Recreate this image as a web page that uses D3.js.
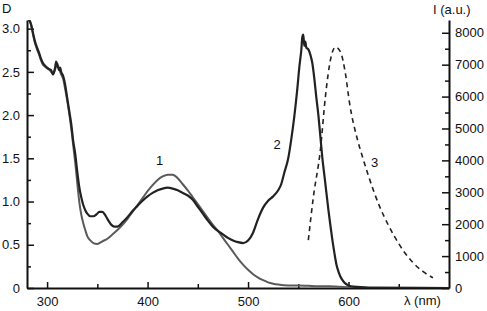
<!DOCTYPE html>
<html><head><meta charset="utf-8">
<script src="https://cdn.jsdelivr.net/npm/d3@7"></script>
<style>
html,body{margin:0;padding:0;background:#fff;}
text{font-family:"Liberation Sans",Arial,Helvetica,sans-serif;}
</style></head>
<body><svg id="c" width="487" height="311"></svg>
<script>
// Curve 1 (gray absorption): [wavelength nm, D]
const curve1 = [[280,3.15],[282,3.12],[284,3.05],[286,2.93],[288,2.83],[290,2.76],[292,2.7],[294,2.63],[296,2.58],[298,2.56],[300,2.54],[302,2.53],[304,2.5],[306,2.48],[308,2.53],[310,2.6],[312,2.53],[314,2.47],[316,2.42],[318,2.3],[320,2.17],[322,2.02],[324,1.85],[326,1.65],[328,1.45],[330,1.22],[332,1.0],[334,0.85],[336,0.75],[338,0.67],[340,0.6],[343,0.55],[346,0.52],[350,0.51],[355,0.54],[360,0.57],[365,0.62],[370,0.67],[375,0.73],[380,0.8],[385,0.88],[390,0.96],[395,1.04],[400,1.12],[405,1.19],[410,1.25],[415,1.29],[420,1.31],[425,1.31],[430,1.27],[435,1.2],[440,1.13],[445,1.05],[450,0.97],[455,0.89],[460,0.81],[465,0.73],[470,0.66],[475,0.58],[480,0.5],[485,0.42],[490,0.34],[495,0.27],[500,0.21],[505,0.16],[510,0.12],[515,0.09],[520,0.065],[525,0.05],[530,0.04],[540,0.03],[550,0.03],[560,0.025],[570,0.02],[580,0.02],[590,0.015],[600,0.01],[610,0.005],[620,0]];
// Curve 2 (dark absorption): [wavelength nm, D]
const curve2 = [[280,3.15],[282,3.1],[284,3.05],[286,2.95],[288,2.85],[290,2.78],[292,2.72],[294,2.65],[296,2.6],[298,2.57],[300,2.55],[302,2.53],[304,2.52],[305,2.49],[306,2.47],[307,2.5],[308,2.55],[309,2.62],[310,2.58],[311,2.55],[312,2.52],[313,2.55],[314,2.5],[316,2.45],[318,2.35],[320,2.2],[322,2.05],[324,1.9],[326,1.7],[328,1.55],[330,1.35],[332,1.17],[334,1.05],[336,0.96],[338,0.9],[340,0.86],[343,0.83],[346,0.83],[349,0.85],[352,0.88],[355,0.88],[358,0.84],[361,0.78],[364,0.73],[367,0.71],[370,0.71],[375,0.76],[380,0.82],[385,0.89],[390,0.95],[395,1.01],[400,1.06],[405,1.10],[410,1.13],[415,1.15],[420,1.16],[425,1.15],[430,1.13],[435,1.1],[440,1.07],[445,1.02],[450,0.94],[455,0.86],[460,0.78],[465,0.71],[470,0.66],[475,0.62],[480,0.58],[485,0.55],[490,0.53],[495,0.52],[500,0.55],[505,0.64],[510,0.8],[515,0.93],[520,1.01],[525,1.06],[530,1.13],[533,1.2],[536,1.33],[540,1.5],[543,1.72],[546,1.98],[549,2.3],[551,2.55],[552,2.65],[553,2.75],[554,2.9],[555,2.93],[556,2.8],[557,2.85],[558,2.78],[560,2.76],[562,2.7],[564,2.6],[566,2.42],[568,2.2],[570,2.0],[572,1.75],[574,1.5],[576,1.3],[578,1.1],[580,0.9],[582,0.72],[584,0.55],[586,0.4],[588,0.27],[590,0.19],[592,0.13],[594,0.09],[596,0.06],[600,0.03],[605,0.015],[620,0.005],[700,0]];
// Curve 3 (dashed emission): [wavelength nm, I a.u.]
const curve3 = [[560,1500],[565,2850],[572,4330],[577,6000],[582,7150],[587,7550],[592,7400],[597,6700],[601,5800],[609,4640],[614,4100],[620,3500],[631,2550],[640,1950],[646,1600],[655,1150],[664,800],[674,520],[684,320]];

const xTicks = [300,400,500,600];
const xMinor = [350,450,550,650];
const dTicks = [0,0.5,1.0,1.5,2.0,2.5,3.0];
const dMinor = [0.25,0.75,1.25,1.75,2.25,2.75];
const iTicks = [0,1000,2000,3000,4000,5000,6000,7000,8000];
const iMinor = [500,1500,2500,3500,4500,5500,6500,7500];
const curveLabels = [["1",412,1.48,"D"],["2",529,1.66,"D"],["3",626,3950,"I"]];

const svg = d3.select("#c");
const x = d3.scaleLinear().domain([280,700]).range([27,449]);
const yD = d3.scaleLinear().domain([0,3.1]).range([288,20]);
const yI = d3.scaleLinear().domain([0,8400]).range([288,20]);

svg.append("defs").append("clipPath").attr("id","clip")
  .append("rect").attr("x",27).attr("y",20).attr("width",422).attr("height",268);

const fs = "13px";
function styleAxis(g, showDomain){
  g.selectAll("path.domain").attr("stroke", showDomain ? "#111" : "none").attr("stroke-width",2);
  g.selectAll(".tick line").attr("stroke","#111").attr("stroke-width",1.5);
  g.selectAll("text").attr("fill","#111").style("font-size",fs).style("font-family","'Liberation Sans',Arial,sans-serif");
}

// bottom axis
const gx = svg.append("g").attr("transform","translate(0,288)")
  .call(d3.axisBottom(x).tickValues(xTicks).tickSizeInner(-6).tickSizeOuter(0).tickPadding(9).tickFormat(d3.format("d")));
styleAxis(gx,true);
const gxm = svg.append("g").attr("transform","translate(0,288)")
  .call(d3.axisBottom(x).tickValues(xMinor).tickSizeInner(-4).tickSizeOuter(0).tickFormat(""));
styleAxis(gxm,false);

// left axis
const gl = svg.append("g").attr("transform","translate(27,0)")
  .call(d3.axisLeft(yD).tickValues(dTicks).tickSizeInner(-7).tickSizeOuter(0).tickPadding(7).tickFormat(d => d===0 ? "0" : d.toFixed(1)));
styleAxis(gl,true);
const glm = svg.append("g").attr("transform","translate(27,0)")
  .call(d3.axisLeft(yD).tickValues(dMinor).tickSizeInner(-4).tickSizeOuter(0).tickFormat(""));
styleAxis(glm,false);

// right axis
const gr = svg.append("g").attr("transform","translate(449,0)")
  .call(d3.axisRight(yI).tickValues(iTicks).tickSizeInner(-7).tickSizeOuter(0).tickPadding(6).tickFormat(d3.format("d")));
styleAxis(gr,true);
const grm = svg.append("g").attr("transform","translate(449,0)")
  .call(d3.axisRight(yI).tickValues(iMinor).tickSizeInner(-4).tickSizeOuter(0).tickFormat(""));
styleAxis(grm,false);

// axis titles
svg.append("text").attr("x",2).attr("y",13).text("D").style("font-size",fs).attr("fill","#111");
svg.append("text").attr("x",433).attr("y",14).text("I (a.u.)").style("font-size",fs).attr("fill","#111");
svg.append("text").attr("x",404).attr("y",305).text("λ (nm)").style("font-size",fs).attr("fill","#111");

const plot = svg.append("g").attr("clip-path","url(#clip)");
const lineD = d3.line().x(d=>x(d[0])).y(d=>yD(d[1])).curve(d3.curveMonotoneX);
const lineI = d3.line().x(d=>x(d[0])).y(d=>yI(d[1])).curve(d3.curveMonotoneX);

plot.append("path").datum(curve1).attr("d",lineD).attr("fill","none").attr("stroke","#5a5a5a").attr("stroke-width",2);
plot.append("path").datum(curve2).attr("d",lineD).attr("fill","none").attr("stroke","#222").attr("stroke-width",2.2);
plot.append("path").datum(curve3).attr("d",lineI).attr("fill","none").attr("stroke","#222").attr("stroke-width",1.6).attr("stroke-dasharray","5,4");

curveLabels.forEach(([t,lx,ly,ax]) => {
  svg.append("text").attr("x",x(lx)).attr("y",(ax==="D"?yD(ly):yI(ly))).attr("dy","0.35em")
    .attr("text-anchor","middle").text(t).style("font-size",fs).attr("fill","#111");
});
</script></body></html>
